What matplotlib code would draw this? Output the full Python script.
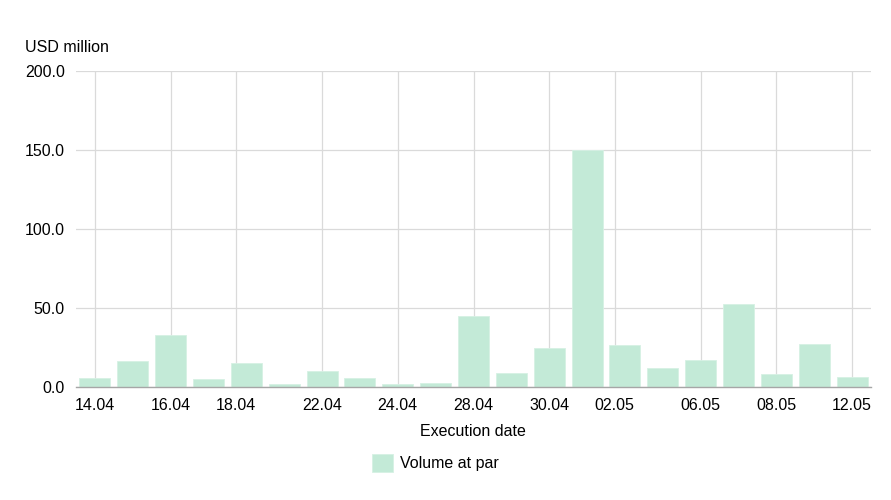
import matplotlib.pyplot as plt
import numpy as np

plt.rcParams['font.family'] = ['Liberation Sans', 'DejaVu Sans']

# trading days (weekends skipped)
days = ['14.04', '15.04', '16.04', '17.04', '20.04', '21.04', '22.04', '23.04',
        '24.04', '27.04', '28.04', '29.04', '30.04', '01.05', '04.05', '05.05',
        '06.05', '07.05', '08.05', '11.05', '12.05']
volume = [5.7, 16.5, 32.9, 5.1, 15.2, 1.9, 10.1, 5.7, 1.9, 2.5, 44.9, 8.9,
          24.7, 150.0, 26.6, 12.0, 17.1, 52.5, 8.2, 27.2, 6.3]
tick_labels = ['14.04', '16.04', '18.04', '22.04', '24.04', '28.04', '30.04',
               '02.05', '06.05', '08.05', '12.05']

# weekend ticks sit in the gap after the previous trading day
weekend_after = {'18.04': '17.04', '02.05': '01.05'}

def tick_position(lbl):
    if lbl in days:
        return days.index(lbl)
    return days.index(weekend_after[lbl]) + 0.73

x = np.arange(len(days))
tick_pos = [tick_position(t) for t in tick_labels]

fig = plt.figure(figsize=(8.91, 5), dpi=100)
ax = fig.add_axes([76 / 891, 1 - 387 / 500, 795 / 891, 316 / 500])

bar_color = '#c3ead7'
ax.bar(x, volume, width=0.82, color=bar_color, edgecolor='#d6f1e4', linewidth=0.6,
       zorder=2, label='Volume at par')

ax.set_xlim(-0.5, 20.5)
ax.set_ylim(0, 200)
ax.set_yticks([0, 50, 100, 150, 200])
ax.set_yticklabels(['0.0', '50.0', '100.0', '150.0', '200.0'])
ax.set_xticks(tick_pos)
ax.set_xticklabels(tick_labels)

ax.grid(True, color='#dadada', linewidth=0.9, zorder=0)
for s in ['top', 'right', 'left']:
    ax.spines[s].set_visible(False)
ax.spines['bottom'].set_color('#a6a6a6')
ax.spines['bottom'].set_linewidth(1.0)
ax.tick_params(axis='both', length=0, labelsize=11.5, colors='#000000')
ax.tick_params(axis='y', pad=8)
ax.tick_params(axis='x', pad=8)

fig.text(25 / 891, 1 - 47 / 500, 'USD million', fontsize=11.5, va='center', ha='left')
fig.text(473 / 891, 1 - 432 / 500, 'Execution date', fontsize=11.5, va='center', ha='center')

# legend
fig.legend(loc='center', bbox_to_anchor=(435 / 891, 1 - 463 / 500), frameon=False,
           fontsize=11.5, handlelength=1.35, handleheight=1.4, handletextpad=0.4)

plt.savefig('out.png', dpi=100)
